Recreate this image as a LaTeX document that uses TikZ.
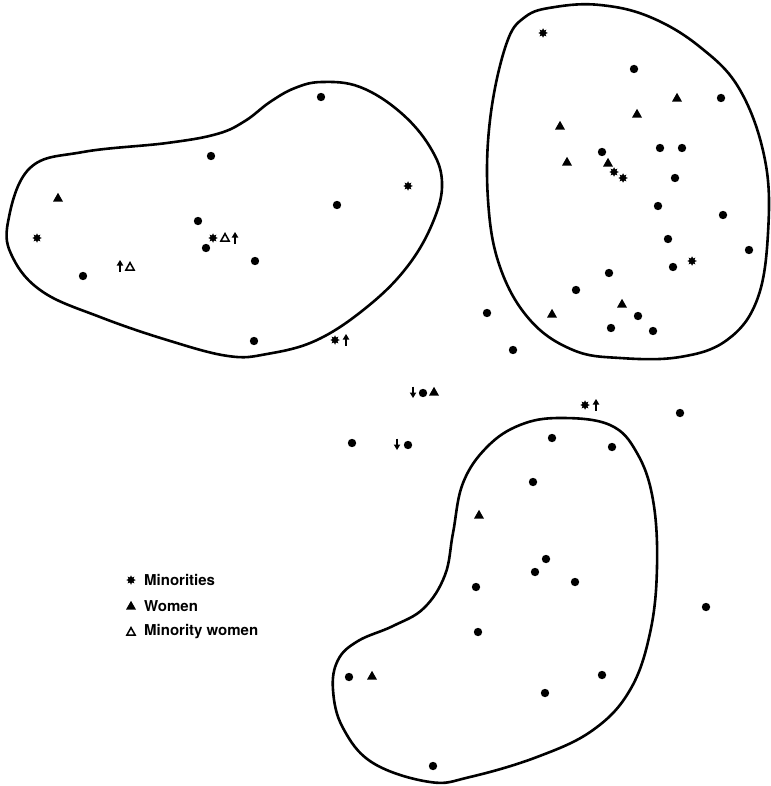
\documentclass[tikz,border=0pt]{standalone}
\usepackage{fontspec}
\setmainfont{TeX Gyre Heros}
\usetikzlibrary{shapes.geometric}
\tikzset{
  blob/.style={line width=2.6pt, line join=round},
  pics/dotm/.style={code={\fill (0,0) circle (4.2pt);}},
  pics/trim/.style={code={\fill (-5,3.6) -- (5,3.6) -- (0,-5.2) -- cycle;}},
  pics/otrim/.style={code={\draw[line width=1.5pt, line join=miter] (-4.2,3.2) -- (4.2,3.2) -- (0,-4.4) -- cycle;}},
  pics/astm/.style={code={\node[star, star points=8, star point ratio=1.7, fill, draw=none, inner sep=0pt, minimum size=9.5pt] at (0,0) {};}},
  pics/uparr/.style={code={\draw[line width=1.5pt] (0,5.5) -- (0,-1.5); \fill (-3.3,-0.5) -- (3.3,-0.5) -- (0,-6) -- cycle;}},
  pics/downarr/.style={code={\draw[line width=1.5pt] (0,-5.5) -- (0,1.5); \fill (-3.3,0.5) -- (3.3,0.5) -- (0,6) -- cycle;}},
  legtext/.style={anchor=west, font=\bfseries\fontsize{15}{18}\selectfont, inner sep=0pt}
}
\begin{document}
\begin{tikzpicture}[x=1pt,y=-1pt]
\useasboundingbox (0,0) rectangle (770,786);
% blobs
\draw[blob] plot[smooth cycle, tension=0.65] coordinates {
 (8,222) (30,168) (83,152) (167,143) (217,134) (245,121) (270,102) (295,88) (322,82) (360,87) (400,112) (430,147) (442,182) (433,222) (407,267) (367,307) (317,340) (267,354) (228,356) (167,340) (100,317) (43,292) (13,258)};
\draw[blob] plot[smooth cycle, tension=0.65] coordinates {
 (555,7) (600,5) (650,17) (700,47) (740,90) (765,160) (768,233) (757,300) (727,340) (680,357) (620,358) (573,350) (530,320) (500,267) (488,200) (490,120) (506,45) (525,17)};
\draw[blob] plot[smooth cycle, tension=0.65] coordinates {
 (560,418) (610,425) (637,453) (653,500) (657,567) (650,633) (630,690) (593,730) (537,757) (470,777) (430,782) (373,763) (343,728) (333,690) (338,660) (358,641) (393,626) (424,608) (445,575) (453,533) (463,483) (487,447) (520,425)};
% left cluster
\foreach \p in {(321,97),(211,156),(337,205),(198,221),(206,248),(255,261),(83,276),(254,341)} \pic at \p {dotm};
\pic at (58,198) {trim};
\foreach \p in {(408,186),(37,238),(213,238),(335,340)} \pic at \p {astm};
\pic at (225,238) {otrim};
\pic at (235,238) {uparr};
\pic at (120,266) {uparr};
\pic at (130,267) {otrim};
\pic at (346,340) {uparr};
% right cluster
\foreach \p in {(634,69),(721,98),(602,152),(660,148),(682,148),(675,178),(658,206),(723,215),(668,239),(749,250),(673,267),(609,273),(576,290),(638,316),(487,313),(611,328),(653,331),(513,350)} \pic at \p {dotm};
\foreach \p in {(677,98),(637,114),(560,126),(567,162),(608,163),(622,304),(552,314)} \pic at \p {trim};
\foreach \p in {(543,33),(614,172),(623,178),(692,261)} \pic at \p {astm};
% middle loose
\pic at (413,392) {downarr};
\pic at (423,393) {dotm};
\pic at (434,392) {trim};
\pic at (352,443) {dotm};
\pic at (397,444) {downarr};
\pic at (408,445) {dotm};
\pic at (585,405) {astm};
\pic at (596,405) {uparr};
\pic at (680,413) {dotm};
\pic at (706,607) {dotm};
% bottom cluster
\foreach \p in {(552,438),(612,447),(533,482),(546,559),(535,572),(575,582),(476,587),(478,632),(602,675),(349,677),(545,693),(433,766)} \pic at \p {dotm};
\pic at (479,515) {trim};
\pic at (372,676) {trim};
% legend
\pic at (131,580) {astm};
\pic at (131,606) {trim};
\pic at (131,632) {otrim};
\node[legtext] (l1) at (144,580) {Minorities};
\node[legtext] (l2) at (144,606) {Women};
\node[legtext] (l3) at (144,632) {Minority women};
\end{tikzpicture}
\end{document}
